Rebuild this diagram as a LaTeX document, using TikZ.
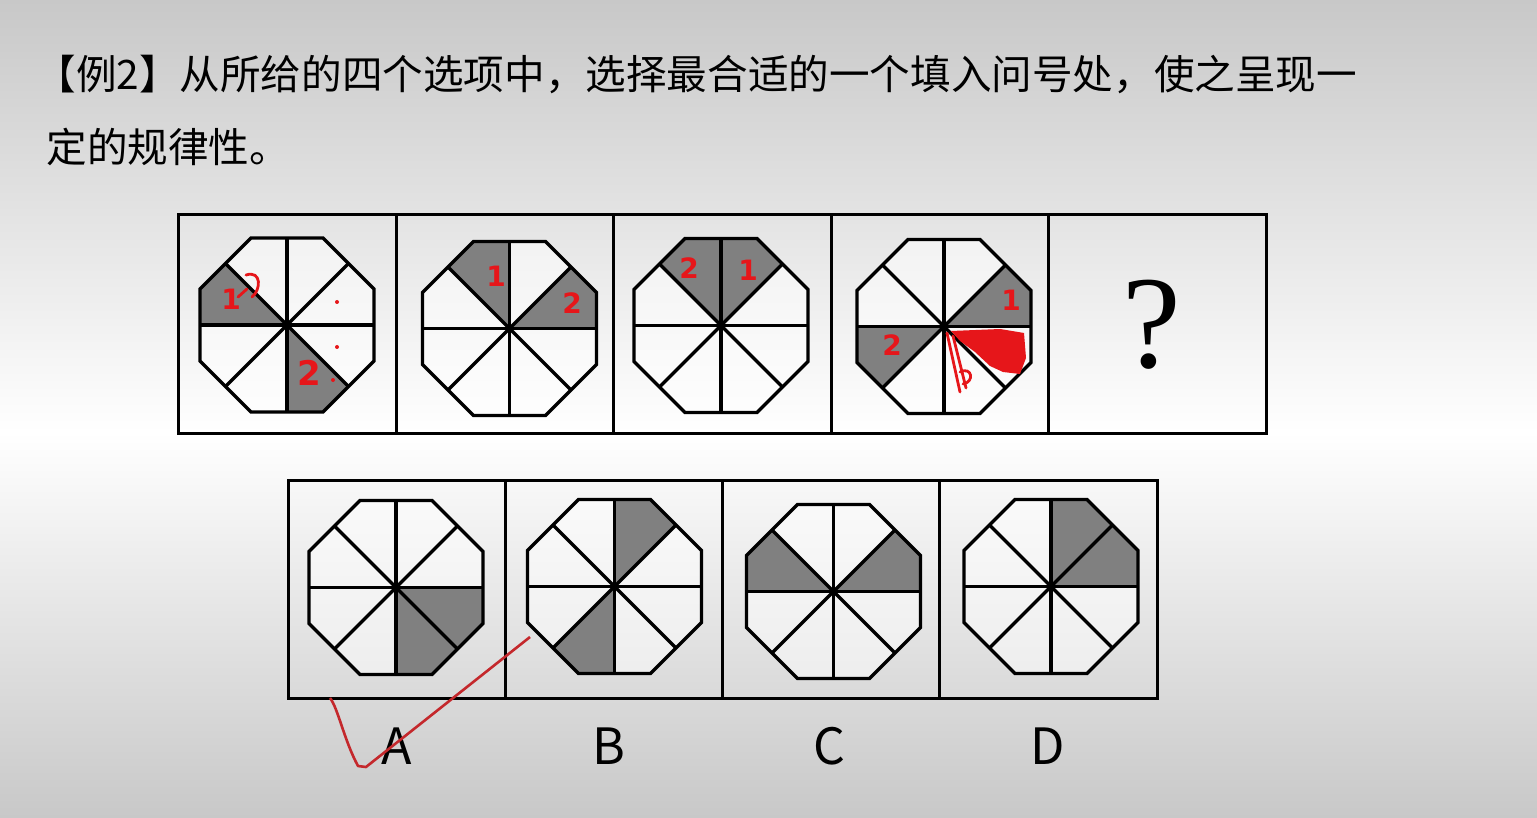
\documentclass[tikz,border=0pt]{standalone}
\usepackage{fontspec}
\newfontfamily\cjk{Noto Sans CJK SC}
\newfontfamily\qfont{Liberation Serif}
\newfontfamily\handfont{DejaVu Sans}
\definecolor{bggray}{RGB}{200,200,200}
\definecolor{annotred}{RGB}{230,22,26}
\definecolor{tickred}{RGB}{196,40,44}
\newcommand{\oA}{87}
\newcommand{\oR}{94.2}
\tikzset{
  octline/.style={line width=1.7pt},
  boxline/.style={line width=1.5pt},
  sect/.style={fill=black!50},
  annot/.style={draw=annotred,line width=1.4pt,line cap=round,line join=round},
  digit/.style={text=annotred,inner sep=0pt,font=\handfont\bfseries\fontsize{14}{16}\selectfont},
}
% octagon at (#1,#2), grey sectors #3 (sector k spans 45k..45k+45 degrees)
\newcommand{\octagon}[3]{%
  \begin{scope}[shift={(#1,#2)},yscale=-1]
    \fill[white,opacity=.5] (22.5:\oR) \foreach \k in {1,...,7}{-- (22.5+45*\k:\oR)} -- cycle;
    \foreach \k in {#3}
      \fill[sect] (0,0) -- (45*\k:\oA) -- (45*\k+22.5:\oR) -- (45*\k+45:\oA) -- cycle;
    \foreach \k in {0,...,7}
      \draw[octline] (0,0) -- (45*\k:\oA);
    \draw[octline,line join=miter] (22.5:\oR) \foreach \k in {1,...,7}{-- (22.5+45*\k:\oR)} -- cycle;
  \end{scope}}

\begin{document}
\begin{tikzpicture}[x=0.5pt,y=-0.5pt]
                \useasboundingbox (0,0) rectangle (1537,818);
                \shade[top color=bggray,bottom color=white] (0,0) rectangle (1537,432);
                \shade[top color=white,bottom color=bggray] (0,432) rectangle (1537,818);
                % question
                \node[anchor=west,inner sep=0pt,font=\cjk\fontsize{20.3}{24}\selectfont] (title1) at (35,75)
                    {【例2】从所给的四个选项中，选择最合适的一个填入问号处，使之呈现一};
                \node[anchor=west,inner sep=0pt,font=\cjk\fontsize{20.3}{24}\selectfont] (title2) at (46,147)
                    {定的规律性。};
                % row of figures
                \draw[boxline] (178,215) rectangle (1266,433);
                \foreach \x in {396,613,831,1048}
                    \draw[boxline] (\x,215) -- (\x,433);
                \octagon{287}{325}{3,6}
                \octagon{509.5}{328.5}{2,0}
                \octagon{721}{325.5}{2,1}
                \octagon{944}{326.5}{0,4}
                \node[font=\qfont\fontsize{66}{70}\selectfont] (qmark) at (1152,325) {?};
                % options
                \draw[boxline] (288,480) rectangle (1157,698);
                \foreach \x in {505,722,939}
                    \draw[boxline] (\x,480) -- (\x,698);
                \octagon{396}{587.5}{6,7}
                \octagon{614.5}{586.5}{1,5}
                \octagon{833.5}{591.5}{3,0}
                \octagon{1051}{586.5}{1,0}
                \node[font=\cjk\fontsize{25}{30}\selectfont] (labA) at (396.5,746) {A};
                \node[font=\cjk\fontsize{25}{30}\selectfont] (labB) at (609,746) {B};
                \node[font=\cjk\fontsize{25}{30}\selectfont] (labC) at (829,746) {C};
                \node[font=\cjk\fontsize{25}{30}\selectfont] (labD) at (1048,746) {D};
                % red marks
                \node[digit] (p1one) at (231,299) {1};
                \draw[annot] (238,297) -- (247,289);
                \draw[annot] (246,275) .. controls (262,270) and (261,290) .. (252,297);
                \node[digit,font=\handfont\bfseries\fontsize{17}{20}\selectfont] (p1two) at (309,373) {2};
                \fill[annotred] (337,302) circle (2) (337,347) circle (2) (333,380) circle (2);
                \node[digit] (p2one) at (496,276) {1};
                \node[digit] (p2two) at (572,303) {2};
                \node[digit] (p3two) at (689,268) {2};
                \node[digit] (p3one) at (748,270) {1};
                \node[digit] (p4one) at (1011,300) {1};
                \node[digit] (p4two) at (892,345) {2};
                \fill[annotred] (951,331) -- (1000,329) -- (1024,333) -- (1026,358) -- (1020,374) -- (1003,372)
                    -- (990,366) -- (975,352) -- (960,341) -- cycle;
                \draw[annot] (947,333) -- (960,392);
                \draw[annot] (953,336) -- (966,388);
                \draw[annot] (960,372) .. controls (972,366) and (975,382) .. (963,384);
                \draw[tickred,line width=1.3pt,line join=round] (330,698) .. controls (338,708) and (344,740) .. (358,766)
                    -- (366,767) -- (530,637);
\end{tikzpicture}
\end{document}
